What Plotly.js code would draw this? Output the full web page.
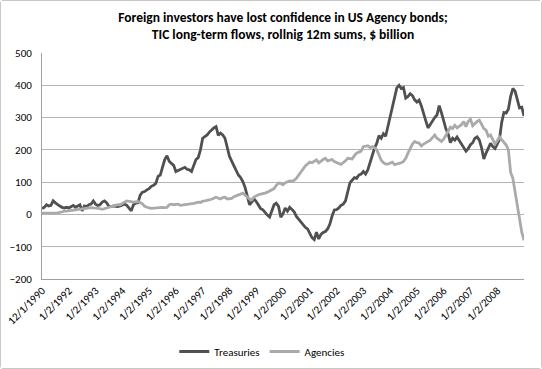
<!DOCTYPE html>
<html>
<head>
<meta charset="utf-8">
<script src="https://cdn.plot.ly/plotly-3.0.1.min.js"></script>
<style>
  html, body { margin: 0; padding: 0; background: #ffffff; }
  #chart { width: 540px; height: 367px; border: 1px solid #c8c8c8; border-radius: 3px; }
</style>
</head>
<body>
<div id="chart"></div>
<script>
// Monthly observations, starting 12/1990 (index 0)
const tickLabels = ["12/1/1990","1/2/1992","1/2/1993","1/2/1994","1/2/1995","1/2/1996","1/2/1997",
  "1/2/1998","1/2/1999","1/2/2000","1/2/2001","1/2/2002","1/2/2003","1/2/2004","1/2/2005",
  "1/2/2006","1/2/2007","1/2/2008"];

const treasuries = [
  18,22,30,26,28,42,36,30,26,22,20,22,20,24,28,22,26,30,11,26,
  24,30,32,42,32,28,30,38,42,36,25,24,26,25,24,26,28,32,28,20,
  11,30,35,36,60,69,71,76,80,87,90,96,118,122,150,170,182,165,158,152,
  133,136,140,142,146,140,138,133,150,170,176,200,236,240,246,255,262,268,272,245,
  252,246,236,205,180,165,150,132,122,114,102,84,60,30,38,48,40,30,18,14,
  4,-2,-8,12,30,35,25,-9,2,20,10,22,15,8,-6,-14,-25,-32,-40,-45,
  -58,-72,-78,-55,-76,-62,-56,-53,-45,-30,-5,14,15,20,28,32,42,66,98,106,
  114,112,122,125,133,125,138,160,185,205,220,244,236,250,242,272,300,330,365,392,
  400,390,393,360,365,374,368,355,348,354,336,310,290,268,280,292,300,308,337,315,
  290,265,250,222,236,230,240,228,216,206,196,204,216,222,236,240,230,206,172,190,
  208,220,210,204,218,232,285,316,314,326,365,390,382,356,330,332,305
];

const agencies = [
  4,4,3,4,4,5,4,5,6,9,10,10,11,12,12,14,15,16,18,18,
  19,20,21,20,20,19,18,16,18,20,22,24,27,28,30,30,33,38,42,40,
  38,38,39,40,37,33,25,22,20,19,20,21,21,22,22,21,22,30,32,30,
  31,32,28,29,30,31,30,32,34,36,38,37,41,42,43,45,47,50,53,50,
  48,52,53,48,49,50,55,57,59,63,66,61,54,48,45,54,58,61,63,64,
  66,69,72,76,80,90,97,96,92,98,102,104,103,106,112,122,134,142,150,156,
  162,160,164,169,160,166,170,174,166,168,170,164,160,158,155,160,166,174,172,172,
  182,190,193,196,210,211,213,207,210,207,200,185,168,160,156,156,160,162,154,156,
  156,160,164,174,190,205,218,226,222,221,212,218,222,226,230,238,246,236,230,226,
  233,244,256,270,266,276,268,272,278,288,272,288,295,275,282,288,292,278,266,261,
  242,246,230,218,228,240,232,222,215,200,130,112,70,25,-15,-55,-80
];

const idx = treasuries.map((_, i) => i);
const tickVals = tickLabels.map((_, k) => k * 12);

const font = "Carlito, Calibri, 'Liberation Sans', Arial, sans-serif";

const traces = [
  { x: idx, y: treasuries, name: "Treasuries", type: "scatter", mode: "lines",
    line: { color: "#505050", width: 2.8 } },
  { x: idx, y: agencies, name: "Agencies", type: "scatter", mode: "lines",
    line: { color: "#aaaaaa", width: 2.8 } }
];

const layout = {
  width: 540, height: 367,
  margin: { l: 41, r: 17, t: 52, b: 89 },
  paper_bgcolor: "#ffffff", plot_bgcolor: "#ffffff",
  font: { family: font, size: 11, color: "#000000" },
  title: {
    text: "<b>Foreign investors have lost confidence in US Agency bonds;<br>TIC long-term flows, rollnig 12m sums, $ billion</b>",
    x: 0.5, xref: "paper", xanchor: "center",
    yref: "container", y: 0.943, yanchor: "middle",
    font: { family: font, size: 13.5, color: "#000000" }
  },
  xaxis: {
    range: [0, treasuries.length - 1], automargin: false,
    tickmode: "array", tickvals: tickVals, ticktext: tickLabels,
    tickangle: -45, showgrid: false, zeroline: false,
    showline: true, linecolor: "#a0a0a0", linewidth: 1,
    ticks: "", tickfont: { family: font, size: 11, color: "#000000" }
  },
  yaxis: {
    range: [-200, 500], dtick: 100, tick0: 0, automargin: false,
    showgrid: true, gridcolor: "#b4b4b4", gridwidth: 1,
    zeroline: false, showline: true, linecolor: "#a0a0a0", linewidth: 1,
    ticks: "", ticklabelstandoff: 7,
    tickfont: { family: font, size: 11, color: "#000000" }
  },
  showlegend: true,
  legend: {
    orientation: "h", xref: "paper", x: 0.456, xanchor: "center",
    yref: "container", y: 0.045, yanchor: "middle",
    font: { family: font, size: 11, color: "#000000" },
    itemwidth: 30, tracegroupgap: 0
  }
};

Plotly.newPlot("chart", traces, layout, { displayModeBar: false, staticPlot: true });
</script>
</body>
</html>
